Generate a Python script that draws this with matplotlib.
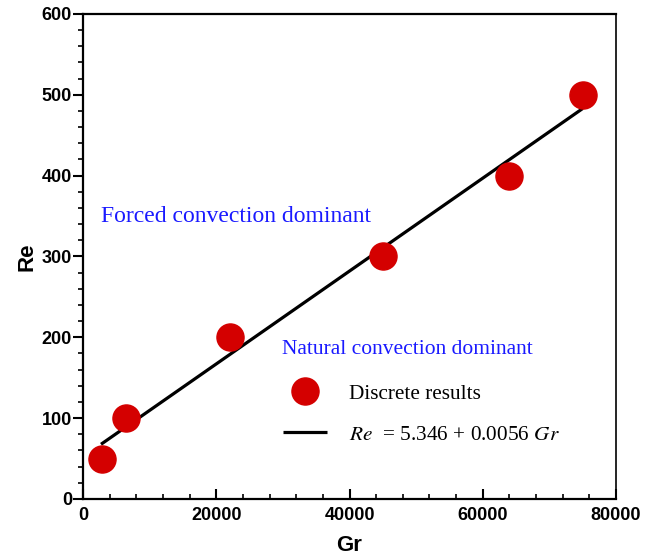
import numpy as np
import matplotlib.pyplot as plt
from matplotlib.ticker import MultipleLocator

plt.rcParams['font.family'] = ['Liberation Sans', 'DejaVu Sans']
plt.rcParams['mathtext.fontset'] = 'stix'

# Discrete results
gr = [2800, 6500, 22000, 45000, 64000, 75000]
re = [50, 100, 200, 300, 400, 500]

x_ticks = [0, 20000, 40000, 60000, 80000]
y_ticks = [0, 100, 200, 300, 400, 500, 600]

# linear fit through the points
slope, intercept = np.polyfit(gr, re, 1)
fit_x = np.array([min(gr) - 100, max(gr)])
fit_y = intercept + slope * fit_x

fig = plt.figure(figsize=(6.61, 5.60), dpi=100)
ax = fig.add_axes([0.1256, 0.109, 0.8064, 0.866])

ax.plot(fit_x, fit_y, color='black', lw=2.3, solid_capstyle='butt', zorder=2,
        label=r'$Re$  = 5.346 + 0.0056 $Gr$')
ax.plot(gr, re, 'o', color='#d40000', ms=19.5, mec='#d40000', zorder=3,
        label='Discrete results')

ax.set_xlim(0, 80000)
ax.set_ylim(0, 600)
ax.set_xticks(x_ticks)
ax.set_yticks(y_ticks)
ax.xaxis.set_minor_locator(MultipleLocator(4000))
ax.yaxis.set_minor_locator(MultipleLocator(20))

ax.tick_params(axis='x', which='major', direction='in', length=7, width=1.5,
               labelsize=13, pad=6)
ax.tick_params(axis='x', which='minor', direction='in', length=3.5, width=1.2)
ax.tick_params(axis='y', which='major', direction='out', length=7, width=1.5,
               labelsize=13, pad=1)
ax.tick_params(axis='y', which='minor', direction='out', length=3.5, width=1.2)
for lab in ax.get_xticklabels() + ax.get_yticklabels():
    lab.set_fontweight('bold')

for s in ax.spines.values():
    s.set_linewidth(1.6)
ax.spines['right'].set_linewidth(1.2)

ax.set_xlabel('Gr', fontsize=16, fontweight='bold', labelpad=8)
ax.set_ylabel('Re', fontsize=16, fontweight='bold', labelpad=3)

serif = ['Liberation Serif', 'DejaVu Serif']
ax.text(2700, 350, 'Forced convection dominant', color='#1a1aff', fontsize=17,
        family=serif, va='center')
ax.text(29870, 185, 'Natural convection dominant', color='#1a1aff', fontsize=15.5,
        family=serif, va='center')

# legend order: markers first, then the fit line
h, l = ax.get_legend_handles_labels()
leg = ax.legend(h[::-1], l[::-1], loc='upper left', bbox_to_anchor=(0.339, 0.277),
                frameon=False, prop={'family': serif, 'size': 15.3},
                handlelength=2.1, labelspacing=1.0, handletextpad=1.0,
                markerscale=1.0)

fig.savefig('out.png', dpi=100)
